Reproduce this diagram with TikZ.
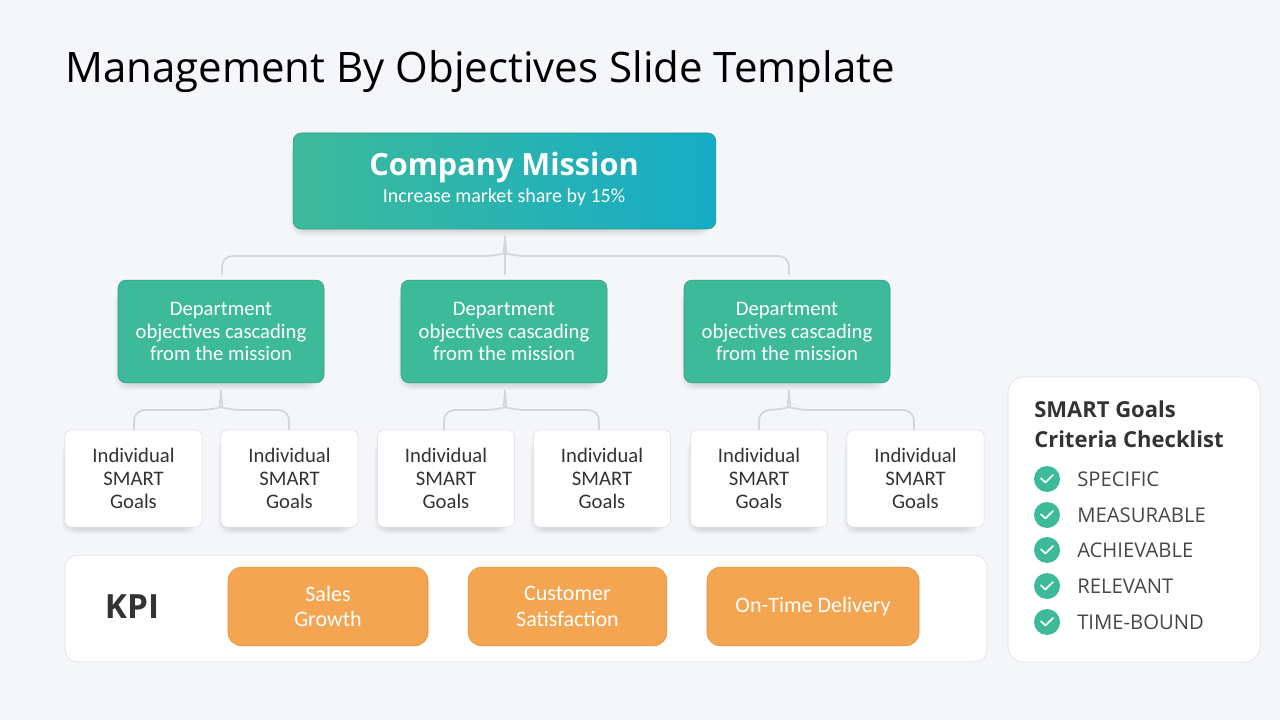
\documentclass[tikz,border=0pt]{standalone}
\usepackage{fontspec}
\setmainfont{Open Sans}
\newfontfamily\boxf{Carlito}
\pgfdeclarelayer{shadow}
\pgfsetlayers{shadow,main}
\definecolor{bg}{HTML}{F4F6F9}
\definecolor{grn}{HTML}{3DBA9A}
\definecolor{grnd}{HTML}{2E9C80}
\definecolor{teal}{HTML}{16ACC6}
\definecolor{org}{HTML}{F4A551}
\definecolor{orgd}{HTML}{E08E36}
\definecolor{brd}{HTML}{D9DCE1}
\definecolor{txt}{HTML}{333333}
\definecolor{lin}{HTML}{D3D6DB}
\newcommand\myshadow[1]{%
 \begin{pgfonlayer}{shadow}
 \foreach \i in {1,...,7}{
  \fill[black,opacity=0.022,rounded corners=9pt]
   ([xshift=-3pt+\i*0.9pt,yshift=-6pt+\i*0.9pt]#1.south west) rectangle ([xshift=-3pt-\i*0.9pt,yshift=-6pt-\i*0.9pt]#1.north east);
 }
 \end{pgfonlayer}}
\tikzset{
 px/.style={x=0.75pt,y=-0.75pt},
 dept/.style={draw=grnd,fill=grn,rounded corners=6pt,text=white,font=\boxf\fontsize{15.5}{17}\selectfont,align=center,minimum width=154.5pt,minimum height=77pt,inner sep=0pt},
 goal/.style={draw=brd,fill=white,rounded corners=5pt,text=txt,font=\boxf\fontsize{15.5}{17}\selectfont,align=center,minimum width=103pt,minimum height=73pt,inner sep=0pt},
 kpi/.style={draw=orgd,fill=org,rounded corners=10pt,text=white,font=\boxf\fontsize{16.5}{19}\selectfont,align=center,minimum height=59pt,inner sep=0pt},
 conn/.style={draw=lin,line width=1.3pt,rounded corners=8pt},
 chk/.style={circle,fill=grn,minimum size=19.5pt,inner sep=0pt},
 item/.style={anchor=west,text=txt!90,font=\fontsize{15.2}{17}\selectfont,inner sep=0pt},
}
\begin{document}
\begin{tikzpicture}[px]
\begin{pgfonlayer}{shadow}
\fill[bg] (0,0) rectangle (1280,720);
\end{pgfonlayer}
\useasboundingbox (0,0) rectangle (1280,720);
\node[anchor=base west,inner sep=0pt,font=\fontsize{31.5}{36}\selectfont] (title) at (65,83) {Management By Objectives Slide Template};
% top box
\node[draw=grnd,rounded corners=6pt,left color=grn,right color=teal,minimum width=317pt,minimum height=72pt,inner sep=0pt] (top) at (504.5,181) {};
\myshadow{top}
\node[text=white,font=\bfseries\fontsize{23}{26}\selectfont,inner sep=0pt] (tt) at (504,168) {Company Mission};
\node[text=white,font=\boxf\fontsize{15}{17}\selectfont,inner sep=0pt] (ts) at (504,197) {Increase market share by 15\%};
% departments
\node[dept] (d1) at (221,331.5) {Department\\objectives cascading\\from the mission};
\node[dept] (d2) at (504,331.5) {Department\\objectives cascading\\from the mission};
\node[dept] (d3) at (787,331.5) {Department\\objectives cascading\\from the mission};
\myshadow{d1}\myshadow{d2}\myshadow{d3}
% top brace
\coordinate (c0) at (505,236);
\draw[conn] (c0) -- (505,275);
\draw[conn] (222,275) -- (222,256) -- (495,256) .. controls (502,254) and (505,246) .. (c0);
\draw[conn] (789,275) -- (789,256) -- (515,256) .. controls (508,254) and (505,246) .. (c0);
% goals
\foreach \x/\n in {133.5/g1,289.5/g2,446/g3,602/g4,759/g5,915.5/g6}{
 \node[goal] (\n) at (\x,478.5) {Individual\\SMART\\Goals};
 \myshadow{\n}
}
% lower braces
\foreach \c/\l/\r in {221/134/289,505/444/599,789/759/914}{
 \draw[conn] (\l,430) -- (\l,410) -- (\c-10,410) .. controls (\c-3,408) and (\c,400) .. (\c,390);
 \draw[conn] (\r,430) -- (\r,410) -- (\c+10,410) .. controls (\c+3,408) and (\c,400) .. (\c,390);
}
% KPI
\node[draw=brd,fill=white,rounded corners=9pt,minimum width=691.5pt,minimum height=80pt,inner sep=0pt] (kbox) at (526,608.5) {};
\node[text=txt,font=\bfseries\fontsize{25}{28}\selectfont] (kpi) at (132,607) {KPI};
\node[kpi,minimum width=150pt] (k1) at (328,606.5) {Sales\\Growth};
\node[kpi,minimum width=149pt] (k2) at (567.5,606.5) {Customer\\Satisfaction};
\node[kpi,minimum width=159pt] (k3) at (813,606.5) {On-Time Delivery};
% checklist
\node[draw=brd,fill=white,rounded corners=12pt,minimum width=189pt,minimum height=214pt,inner sep=0pt] (cbox) at (1134,519.5) {};
\node[anchor=north west,align=left,text=txt,font=\bfseries\fontsize{16.5}{22}\selectfont,inner sep=0pt] (ch) at (1034,401) {SMART Goals\\Criteria Checklist};
\foreach \y/\t/\n in {479/SPECIFIC/a,515/MEASURABLE/b,550/ACHIEVABLE/c,586/RELEVANT/d,622/TIME-BOUND/e}{
 \node[chk] (ck\n) at (1047,\y) {};
 \draw[white,line width=1.3pt,line cap=round,line join=round] ([xshift=-4.5pt,yshift=0.5pt]ck\n.center) -- ([xshift=-1.2pt,yshift=-2.6pt]ck\n.center) -- ([xshift=4.5pt,yshift=3pt]ck\n.center);
 \node[item] (it\n) at (1077,\y) {\t};
}
\end{tikzpicture}
\end{document}
